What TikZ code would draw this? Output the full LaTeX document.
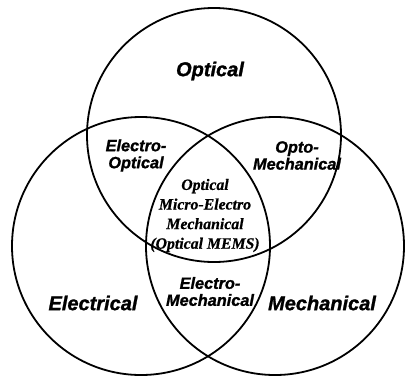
\documentclass[tikz,border=0pt]{standalone}
\usepackage{fontspec}
\setmainfont{Liberation Serif}
\setsansfont{Liberation Sans}
\newfontfamily\heavysans{Liberation Sans Bold Italic}[FakeBold=1.2]
\newfontfamily\heavyserif{Liberation Serif Bold Italic}[FakeBold=0.6]
\begin{document}
\begin{tikzpicture}[x=1pt,y=-1pt,
  ring/.style={circle,draw=black,line width=1.8pt,inner sep=0pt,minimum size=#1},
  big/.style={font=\heavysans\fontsize{20}{22}\selectfont,inner sep=0pt},
  small/.style={font=\heavysans\fontsize{16.3}{17}\selectfont,inner sep=0pt,align=center},
  core/.style={font=\heavyserif\fontsize{15.8}{19.6}\selectfont,inner sep=0pt,align=center}]
\useasboundingbox (0,0) rectangle (406,375);
\node[ring=254pt] (top) at (214,135) {};
\node[ring=258pt] (left) at (141,246) {};
\node[ring=258pt] (right) at (275,246) {};
\node[big] (opt) at (210,71) {Optical};
\node[big] (ele) at (93,303) {Electrical};
\node[big] (mech) at (322,303) {Mechanical};
\node[small] (eo) at (136,155.5) {Electro-\\Optical};
\node[small] (om) at (297,155.5) {Opto-\\Mechanical};
\node[small] (em) at (210,291.5) {Electro-\\Mechanical};
\node[core] (mems) at (205,215.5) {Optical\\Micro-Electro\\Mechanical\\(Optical MEMS)};
\end{tikzpicture}
\end{document}
